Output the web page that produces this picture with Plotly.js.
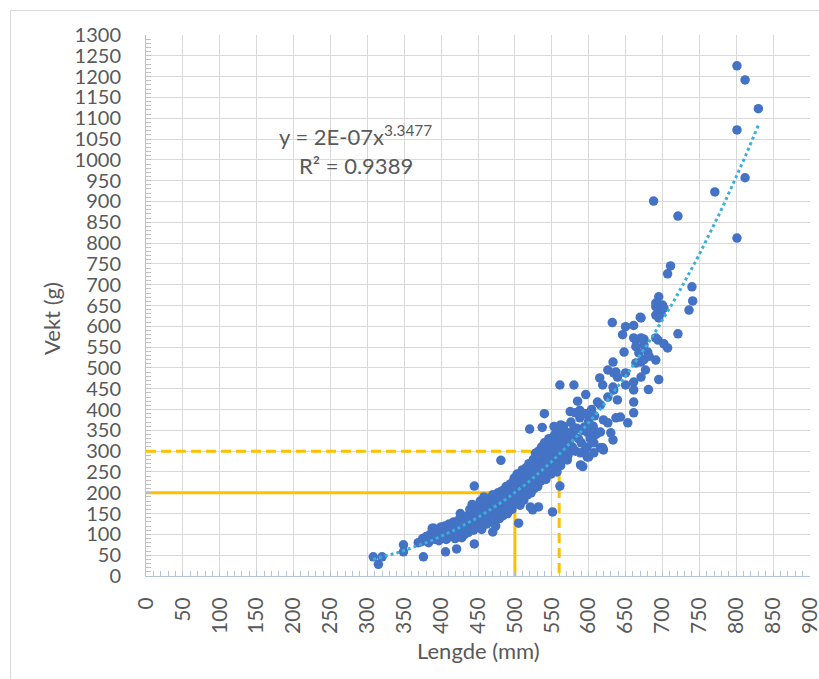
<!DOCTYPE html>
<html>
<head>
<meta charset="utf-8">
<script src="https://cdn.plot.ly/plotly-3.0.1.min.js"></script>
<style>
  html, body { margin: 0; padding: 0; background: #ffffff; }
  #wrap { position: relative; width: 819px; height: 679px; overflow: hidden; }
  #frame { position: absolute; left: 10px; top: 10px; width: 820px; height: 680px; border: 1px solid #d9d9d9; box-sizing: border-box; pointer-events: none; }
  #chart { position: absolute; left: 0; top: 0; width: 819px; height: 679px; }
</style>
</head>
<body>
<div id="wrap">
  <div id="chart"></div>
  <div id="frame"></div>
</div>
<script>
// ---- data (length in mm, weight in g) ----
const lengthMm = [
  308,315,320,349,349,369,376,390,406,421,445,470,445,481,505,524,551,561,592,520,537,553,562,540,561,580,596,585,616,600,521,532,
  372,375,378,380,383,385,387,388,390,392,393,395,397,398,400,400,
  402,404,405,407,408,410,411,413,414,415,417,418,419,420,421,423,424,425,426,427,428,429,430,
  431,432,433,434,435,436,437,438,439,440,441,442,443,444,445,446,447,448,449,450,451,452,453,454,455,456,457,458,459,460,
  461,462,463,464,465,466,467,468,469,470,471,472,473,474,475,476,477,478,479,480,481,482,483,484,485,486,487,488,489,490,
  491,492,493,494,495,496,497,498,499,500,501,502,503,504,505,506,507,508,509,510,511,512,513,514,515,516,517,518,519,520,
  521,522,523,524,525,526,527,528,529,530,531,532,533,534,535,536,537,538,539,540,541,542,543,544,545,546,547,548,549,550,
  551,552,553,554,555,556,557,558,559,560,561,562,563,564,565,566,567,568,569,570,572,574,576,578,580,
  582,584,586,588,590,592,594,596,598,600,602,604,606,608,610,
  632,670,650,661,646,664,675,664,675,721,694,691,698,707,648,633,668,680,691,671,626,637,650,677,695,681,615,619,633,634,661,661,650,626,639,661,661,653,
  612,616,575,582,588,595,603,637,643,620,626,580,594,607,616,630,633,619,598,607,571,562,571,580,589,598,589,571,562,607,620,
  711,707,740,741,736,695,691,700,702,691,695,671,639,634,702,671,661,691,675,682,664,671,
  801,812,830,801,812,771,688,721,801
];
const weightG = [
  46,28,46,75,58,80,46,115,58,65,77,106,216,278,127,159,154,216,263,353,357,359,363,390,459,459,436,420,308,286,166,166,
  82,90,85,95,80,100,92,115,105,88,98,110,85,100,92,118,
  105,95,120,88,112,100,125,95,108,118,130,102,90,112,122,98,135,108,150,118,92,128,110,
  140,100,122,132,115,145,105,128,160,118,138,172,125,110,148,132,155,120,140,165,128,150,180,138,112,158,142,190,130,168,
  150,125,175,140,160,185,132,165,150,195,140,172,158,120,182,148,200,165,138,188,172,155,205,145,178,195,160,215,170,150,
  190,205,172,222,185,160,210,195,235,178,215,200,245,185,225,208,170,240,195,255,218,182,232,205,260,245,195,225,270,212,
  240,200,262,228,280,210,250,295,235,265,215,300,245,275,228,310,258,290,240,320,270,232,305,255,285,330,262,300,245,275,
  318,260,290,340,270,305,250,325,285,350,300,265,335,290,315,360,280,330,300,345,290,325,370,310,340,
  300,355,330,380,320,350,300,390,345,372,330,400,360,385,340,
  609,622,599,602,580,567,569,551,555,582,567,647,632,548,538,514,536,538,519,514,495,490,488,495,472,448,476,459,454,447,466,447,459,430,423,418,392,368,
  418,411,395,392,398,390,393,380,382,375,368,356,358,351,346,344,327,308,310,320,344,334,310,303,296,286,267,279,286,296,303,
  745,726,695,661,639,671,656,651,644,627,620,620,478,488,558,572,572,572,520,528,512,478,
  1226,1192,1123,1072,957,923,901,865,812
];
// reference guide lines: length -> weight
const guideLength = [500, 560];
const guideWeight = [200, 300];
const equationText = 'y = 2E-07x<sup>3.3477</sup>';
const r2Text = 'R² = 0.9389';
const xTickVals = [0,50,100,150,200,250,300,350,400,450,500,550,600,650,700,750,800,850,900];
const yTickVals = [0,50,100,150,200,250,300,350,400,450,500,550,600,650,700,750,800,850,900,950,1000,1050,1100,1150,1200,1250,1300];

// ---- power trendline fitted to the data (least squares in log-log) ----
function powerFit(xs, ys) {
  let n = xs.length, sx = 0, sy = 0, sxx = 0, sxy = 0;
  for (let i = 0; i < n; i++) {
    const lx = Math.log(xs[i]), ly = Math.log(ys[i]);
    sx += lx; sy += ly; sxx += lx * lx; sxy += lx * ly;
  }
  const b = (n * sxy - sx * sy) / (n * sxx - sx * sx);
  const a = Math.exp((sy - b * sx) / n);
  return { a, b };
}
const fit = powerFit(lengthMm, weightG);
const xmin = Math.min(...lengthMm), xmax = Math.max(...lengthMm);
const trendX = [], trendY = [];
for (let i = 0; i <= 80; i++) {
  const x = xmin + (xmax - xmin) * i / 80;
  trendX.push(x);
  trendY.push(fit.a * Math.pow(x, fit.b));
}

const gold = '#FFC000';
const traces = [
  { x: [0, guideLength[0], guideLength[0]], y: [guideWeight[0], guideWeight[0], 0],
    mode: 'lines', line: { color: gold, width: 3 }, hoverinfo: 'skip', showlegend: false },
  { x: [0, guideLength[1], guideLength[1]], y: [guideWeight[1], guideWeight[1], 0],
    mode: 'lines', line: { color: gold, width: 3, dash: '10px,5px' }, hoverinfo: 'skip', showlegend: false },
  { x: lengthMm, y: weightG, mode: 'markers', type: 'scatter',
    marker: { color: '#4472C4', size: 9.5 }, showlegend: false },
  { x: trendX, y: trendY, mode: 'lines', line: { color: '#3AAFDA', width: 3, dash: 'dot' },
    hoverinfo: 'skip', showlegend: false }
];

const fam = 'Lato, "Open Sans", sans-serif';
const xTickFont = { family: fam, size: 21, color: '#595959' };
const yTickFont = { family: fam, size: 20, color: '#595959' };
const layout = {
  width: 819, height: 679,
  margin: { l: 146, r: 9, t: 35, b: 103 },
  paper_bgcolor: '#ffffff', plot_bgcolor: '#ffffff',
  font: { family: fam, size: 20, color: '#595959' },
  showlegend: false,
  xaxis: {
    range: [0, 900], tickvals: xTickVals, ticktext: xTickVals.map(String),
    tickangle: -90, tickfont: xTickFont, ticklabeloverflow: 'allow',
    showgrid: true, gridcolor: '#d9d9d9', gridwidth: 1,
    zeroline: false, showline: true, linecolor: '#b4c2dc', linewidth: 1,
    ticks: 'inside', ticklen: 5, tickcolor: '#b4c2dc',
    minor: { dtick: 10, ticks: 'inside', ticklen: 5, tickcolor: '#b4c2dc', showgrid: false },
    ticklabelstandoff: 12, fixedrange: true
  },
  yaxis: {
    range: [0, 1300], tickvals: yTickVals, ticktext: yTickVals.map(String),
    tickfont: yTickFont, ticklabeloverflow: 'allow',
    showgrid: true, gridcolor: '#d9d9d9', gridwidth: 1,
    zeroline: false, showline: true, linecolor: '#bfbfbf', linewidth: 1,
    ticks: 'inside', ticklen: 5, tickcolor: '#bfbfbf',
    minor: { dtick: 10, ticks: 'inside', ticklen: 5, tickcolor: '#bfbfbf', showgrid: false },
    ticklabelstandoff: 20, fixedrange: true
  },
  annotations: [
    { xref: 'paper', yref: 'paper', x: 0.316, y: 0.815, text: equationText, showarrow: false,
      font: { family: fam, size: 22, color: '#595959' }, xanchor: 'center', yanchor: 'middle' },
    { xref: 'paper', yref: 'paper', x: 0.316, y: 0.758, text: r2Text, showarrow: false,
      font: { family: fam, size: 22, color: '#595959' }, xanchor: 'center', yanchor: 'middle' },
    { xref: 'paper', yref: 'paper', x: -0.1416, y: 0.477, text: 'Vekt (g)', textangle: -90, showarrow: false,
      font: { family: fam, size: 22, color: '#595959' }, xanchor: 'center', yanchor: 'middle' },
    { xref: 'paper', yref: 'paper', x: 0.5, y: -0.137, text: 'Lengde (mm)', showarrow: false,
      font: { family: fam, size: 22, color: '#595959' }, xanchor: 'center', yanchor: 'middle' }
  ]
};

Plotly.newPlot('chart', traces, layout, { displayModeBar: false, staticPlot: true });
</script>
</body>
</html>
